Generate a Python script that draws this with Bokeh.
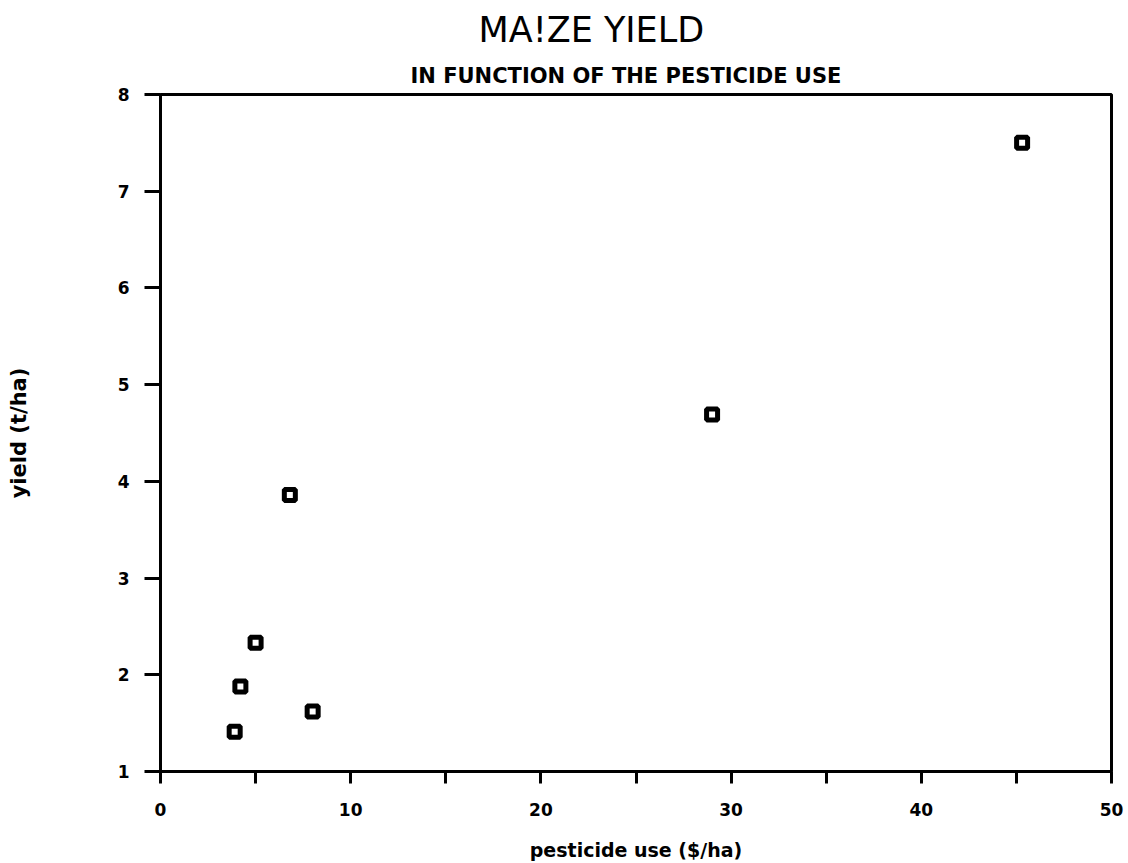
from bokeh.plotting import figure
from bokeh.models import Range1d, FixedTicker, Title
from bokeh.embed import file_html
from bokeh.resources import INLINE

# data
pesticide_use = [3.9, 4.2, 5.0, 6.8, 8.0, 29.0, 45.3]
yield_t_ha = [1.41, 1.88, 2.33, 3.86, 1.62, 4.69, 7.50]

x_ticks = [0, 10, 20, 30, 40, 50]
x_minor = [5, 15, 25, 35, 45]
y_ticks = [1, 2, 3, 4, 5, 6, 7, 8]

FONT = "DejaVu Sans"

p = figure(width=1128, height=863, output_backend="svg", toolbar_location=None,
           x_range=Range1d(0, 50), y_range=Range1d(1, 8), title=None,
           min_border_left=160, min_border_right=17, min_border_top=94, min_border_bottom=92)

p.xgrid.visible = False
p.ygrid.visible = False
p.outline_line_color = "black"
p.outline_line_width = 3

p.scatter(pesticide_use, yield_t_ha, marker="square", size=11, line_width=5,
          line_color="black", fill_color="white")

for ax in (p.xaxis[0], p.yaxis[0]):
    ax.axis_line_width = 3
    ax.major_tick_line_width = 3
    ax.minor_tick_line_width = 3
    ax.major_label_text_font = FONT
    ax.major_label_text_font_style = "bold"
    ax.major_label_text_font_size = "17px"
    ax.major_label_text_color = "black"
    ax.axis_label_text_font = FONT
    ax.axis_label_text_font_style = "bold"
    ax.axis_label_text_color = "black"
    ax.major_tick_in = 0
    ax.minor_tick_in = 0

p.xaxis.ticker = FixedTicker(ticks=x_ticks, minor_ticks=x_minor)
p.xaxis.major_tick_out = 12
p.xaxis.minor_tick_out = 12
p.xaxis.major_label_standoff = 19
p.xaxis.axis_label = "pesticide use ($/ha)"
p.xaxis.axis_label_text_font_size = "19px"
p.xaxis.axis_label_standoff = 20

p.yaxis.ticker = FixedTicker(ticks=y_ticks, minor_ticks=[])
p.yaxis.major_tick_out = 16
p.yaxis.minor_tick_out = 0
p.yaxis.major_label_standoff = 15
p.yaxis.axis_label = "yield (t/ha)"
p.yaxis.axis_label_text_font_size = "21px"
p.yaxis.axis_label_standoff = 84

sub = Title(text="IN FUNCTION OF THE PESTICIDE USE", align="left", offset=250,
            text_font=FONT, text_font_style="bold", text_font_size="21px",
            text_color="black", standoff=13)
main = Title(text="MA!ZE YIELD", align="left", offset=318,
             text_font=FONT, text_font_style="normal", text_font_size="35px",
             text_color="black", standoff=11)
p.add_layout(sub, "above")
p.add_layout(main, "above")

open("out.html", "w").write(file_html(p, INLINE))
